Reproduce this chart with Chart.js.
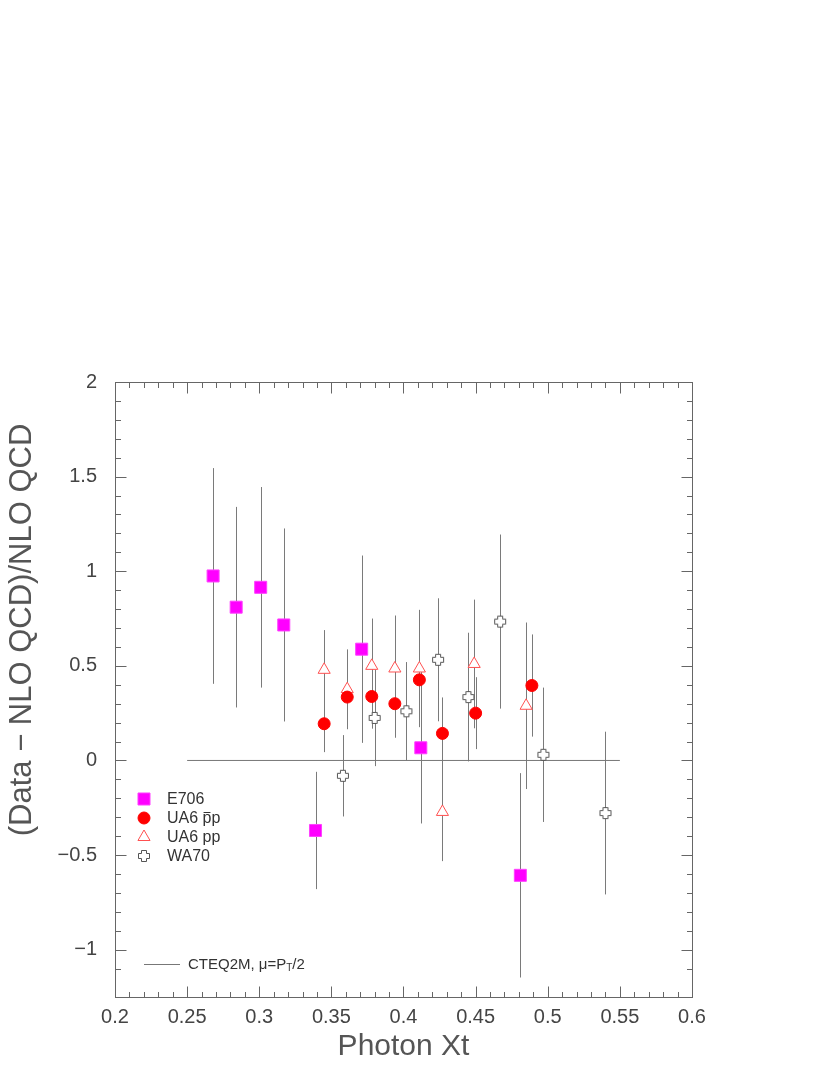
<!DOCTYPE html>
<html>
<head>
<meta charset="utf-8">
<script src="https://cdn.jsdelivr.net/npm/chart.js@4.4.0/dist/chart.umd.min.js"></script>
<style>
  html, body { margin: 0; padding: 0; background: #fff; }
  #wrap { width: 830px; height: 1075px; }
</style>
</head>
<body>
<div id="wrap"><canvas id="xtChart"></canvas></div>
<script>
// (Data - NLO QCD)/NLO QCD vs photon xT, CTEQ2M with mu = pT/2

// ── data ──
const e706X    = [0.268, 0.284, 0.301, 0.317, 0.339, 0.371, 0.412, 0.481];
const e706Y    = [0.975, 0.810, 0.915, 0.716, -0.370, 0.588, 0.067, -0.607];
const e706Err  = [0.57, 0.53, 0.53, 0.51, 0.31, 0.495, 0.40, 0.54];

const ua6pbarX   = [0.345, 0.361, 0.378, 0.394, 0.411, 0.427, 0.450, 0.489];
const ua6pbarY   = [0.194, 0.335, 0.338, 0.300, 0.426, 0.143, 0.250, 0.396];
const ua6pbarErr = [0.15, 0.17, 0.17, 0.18, 0.20, 0.19, 0.19, 0.27];

const ua6ppX   = [0.345, 0.361, 0.378, 0.394, 0.411, 0.427, 0.449, 0.485];
const ua6ppY   = [0.479, 0.377, 0.500, 0.486, 0.486, -0.272, 0.510, 0.289];
const ua6ppErr = [0.21, 0.21, 0.25, 0.28, 0.31, 0.26, 0.34, 0.44];

const wa70X   = [0.358, 0.380, 0.402, 0.424, 0.445, 0.467, 0.497, 0.540];
const wa70Y   = [-0.081, 0.225, 0.260, 0.532, 0.335, 0.734, 0.030, -0.278];
const wa70Err = [0.215, 0.255, 0.26, 0.325, 0.34, 0.46, 0.355, 0.43];

const cteqX = [0.25, 0.55];
const cteqY = [0, 0];

const xRange = [0.2, 0.6];
const yRange = [-1.25, 2];
const xMinorStep = 0.01, xMajorStep = 0.05;
const yMinorStep = 0.1,  yMajorStep = 0.5;

const yTitle = '(Data \u2212 NLO QCD)/NLO QCD';

const toPoints = (xs, ys) => xs.map((v, i) => ({ x: v, y: ys[i] }));
const isMultiple = (v, step) => Math.abs(v / step - Math.round(v / step)) < 1e-6;
const fmt = v => String(Math.round(v * 100) / 100).replace('-', '\u2212');

// open cross marker for WA70
function makeOpenCross(color) {
    const c = document.createElement('canvas');
    c.width = c.height = 14;
    const g = c.getContext('2d');
    const a = 1.5, b = 4.5, d = 9.5, e = 12.5;
    g.beginPath();
    g.moveTo(b, a); g.lineTo(d, a); g.lineTo(d, b); g.lineTo(e, b);
    g.lineTo(e, d); g.lineTo(d, d); g.lineTo(d, e); g.lineTo(b, e);
    g.lineTo(b, d); g.lineTo(a, d); g.lineTo(a, b); g.lineTo(b, b);
    g.closePath();
    g.fillStyle = '#fff';
    g.fill();
    g.strokeStyle = color;
    g.lineWidth = 1;
    g.stroke();
    return c;
}
const openCross = makeOpenCross('#555');

// ── plugins ──
const errorBars = {
    id: 'errorBars',
    beforeDatasetsDraw(chart) {
        const { ctx, scales: { x, y } } = chart;
        ctx.save();
        ctx.strokeStyle = '#7a7a7a';
        ctx.lineWidth = 1;
        chart.data.datasets.forEach(ds => {
            if (!ds.errors) return;
            ds.data.forEach((p, i) => {
                const px = Math.round(x.getPixelForValue(p.x)) + 0.5;
                ctx.beginPath();
                ctx.moveTo(px, y.getPixelForValue(p.y + ds.errors[i]));
                ctx.lineTo(px, y.getPixelForValue(p.y - ds.errors[i]));
                ctx.stroke();
            });
        });
        ctx.restore();
    }
};

const frameTicks = {
    id: 'frameTicks',
    afterDraw(chart) {
        const { ctx, chartArea: a, scales: { x, y } } = chart;
        const L = Math.round(a.left) + 0.5, R = Math.round(a.right) + 0.5;
        const T = Math.round(a.top) + 0.5, B = Math.round(a.bottom) + 0.5;
        ctx.save();
        ctx.strokeStyle = '#666';
        ctx.lineWidth = 1;
        ctx.strokeRect(L, T, R - L, B - T);
        ctx.beginPath();
        x.ticks.forEach(t => {
            if (!isMultiple(t.value, xMinorStep)) return;
            const len = isMultiple(t.value, xMajorStep) ? 11 : 5.5;
            const px = Math.round(x.getPixelForValue(t.value)) + 0.5;
            ctx.moveTo(px, B); ctx.lineTo(px, B - len);
            ctx.moveTo(px, T); ctx.lineTo(px, T + len);
        });
        y.ticks.forEach(t => {
            if (!isMultiple(t.value, yMinorStep)) return;
            const len = isMultiple(t.value, yMajorStep) ? 11 : 5.5;
            const py = Math.round(y.getPixelForValue(t.value)) + 0.5;
            ctx.moveTo(L, py); ctx.lineTo(L + len, py);
            ctx.moveTo(R, py); ctx.lineTo(R - len, py);
        });
        ctx.stroke();

        // y axis title, sits a little above the plot centre like the original
        ctx.translate(22, a.top + 248);
        ctx.rotate(-Math.PI / 2);
        ctx.font = '31px "Liberation Sans", Arial, sans-serif';
        ctx.fillStyle = '#555';
        ctx.textAlign = 'center';
        ctx.textBaseline = 'middle';
        ctx.fillText(yTitle, 0, 0);
        ctx.restore();
    }
};

const legendBox = {
    id: 'legendBox',
    afterDraw(chart) {
        const { ctx, chartArea: a } = chart;
        const dsets = chart.data.datasets;
        const mx = a.left + 29, tx = a.left + 52;
        let ry = a.top + 417;
        ctx.save();
        ctx.font = '16px "Liberation Sans", Arial, sans-serif';
        ctx.textBaseline = 'middle';
        ctx.fillStyle = '#333';
        ['E706', 'UA6 p\u0304p', 'UA6 pp', 'WA70'].forEach(name => {
            const ds = dsets.find(d => d.label === name);
            ctx.save();
            ctx.fillStyle = ds.pointBackgroundColor;
            ctx.strokeStyle = ds.pointBorderColor;
            ctx.lineWidth = ds.pointBorderWidth;
            Chart.helpers.drawPoint(ctx, {
                pointStyle: ds.pointStyle, radius: ds.pointRadius,
                borderWidth: ds.pointBorderWidth, rotation: 0
            }, mx, ry);
            ctx.restore();
            const plain = name.replace('\u0304', '');
            ctx.fillText(plain, tx, ry + 1);
            if (name.includes('\u0304')) {
                const x0 = tx + ctx.measureText('UA6 ').width;
                const w = ctx.measureText('p').width;
                ctx.save();
                ctx.strokeStyle = '#333';
                ctx.beginPath();
                ctx.moveTo(x0 + 1, Math.round(ry - 6) + 0.5);
                ctx.lineTo(x0 + w - 1, Math.round(ry - 6) + 0.5);
                ctx.stroke();
                ctx.restore();
            }
            ry += 19;
        });

        // theory curve entry
        const ly = Math.round(a.top + 582) + 0.5;
        ctx.strokeStyle = '#777';
        ctx.beginPath();
        ctx.moveTo(mx, ly); ctx.lineTo(mx + 36, ly);
        ctx.stroke();
        let cx = a.left + 73;
        ctx.font = '15px "Liberation Sans", Arial, sans-serif';
        ctx.fillText('CTEQ2M, \u03bc=P', cx, ly);
        cx += ctx.measureText('CTEQ2M, \u03bc=P').width;
        ctx.font = '10px "Liberation Sans", Arial, sans-serif';
        ctx.fillText('T', cx, ly + 4);
        cx += ctx.measureText('T').width;
        ctx.font = '15px "Liberation Sans", Arial, sans-serif';
        ctx.fillText('/2', cx, ly);
        ctx.restore();
    }
};

// ── chart ──
new Chart(document.getElementById('xtChart').getContext('2d'), {
    type: 'scatter',
    data: {
        datasets: [
            {
                label: 'UA6 p\u0304p', data: toPoints(ua6pbarX, ua6pbarY), errors: ua6pbarErr,
                pointStyle: 'circle', pointRadius: 6,
                pointBackgroundColor: '#ff0000', pointBorderColor: '#ff0000', pointBorderWidth: 1,
                order: 1
            },
            {
                label: 'E706', data: toPoints(e706X, e706Y), errors: e706Err,
                pointStyle: 'rect', pointRadius: 8.5,
                pointBackgroundColor: '#ff00ff', pointBorderColor: '#ff40ff', pointBorderWidth: 1,
                order: 2
            },
            {
                label: 'WA70', data: toPoints(wa70X, wa70Y), errors: wa70Err,
                pointStyle: openCross, pointRadius: 7,
                pointBackgroundColor: '#fff', pointBorderColor: '#555', pointBorderWidth: 1,
                order: 3
            },
            {
                label: 'UA6 pp', data: toPoints(ua6ppX, ua6ppY), errors: ua6ppErr,
                pointStyle: 'triangle', pointRadius: 7,
                pointBackgroundColor: '#ffffff', pointBorderColor: '#ff5050', pointBorderWidth: 1,
                order: 4
            },
            {
                label: 'CTEQ2M', data: toPoints(cteqX, cteqY),
                showLine: true, borderColor: '#777', borderWidth: 1,
                pointRadius: 0, order: 5
            }
        ]
    },
    options: {
        responsive: true,
        maintainAspectRatio: false,
        animation: false,
        events: [],
        layout: { padding: { top: 382, right: 138, left: 0, bottom: 0 } },
        plugins: { legend: { display: false }, tooltip: { enabled: false } },
        scales: {
            x: {
                type: 'linear', min: xRange[0], max: xRange[1],
                afterFit: s => { s.height = 78; },
                grid: { display: false, drawTicks: false },
                border: { display: false },
                ticks: {
                    stepSize: xMinorStep, autoSkip: false, maxRotation: 0, padding: 8,
                    color: '#444', font: { family: '"Liberation Sans", Arial, sans-serif', size: 20 },
                    callback: v => isMultiple(v, xMajorStep) ? fmt(v) : ''
                },
                title: {
                    display: true, text: 'Photon Xt', color: '#555',
                    font: { family: '"Liberation Sans", Arial, sans-serif', size: 30 },
                    padding: { top: 0, bottom: 10 }
                }
            },
            y: {
                type: 'linear', min: yRange[0], max: yRange[1],
                afterFit: s => { s.width = 115; },
                grid: { display: false, drawTicks: false },
                border: { display: false },
                ticks: {
                    stepSize: yMinorStep, autoSkip: false, padding: 18,
                    color: '#444', font: { family: '"Liberation Sans", Arial, sans-serif', size: 20 },
                    callback: v => (isMultiple(v, yMinorStep) && isMultiple(v, yMajorStep)) ? fmt(v) : ''
                }
            }
        }
    },
    plugins: [errorBars, frameTicks, legendBox]
});
</script>
</body>
</html>
